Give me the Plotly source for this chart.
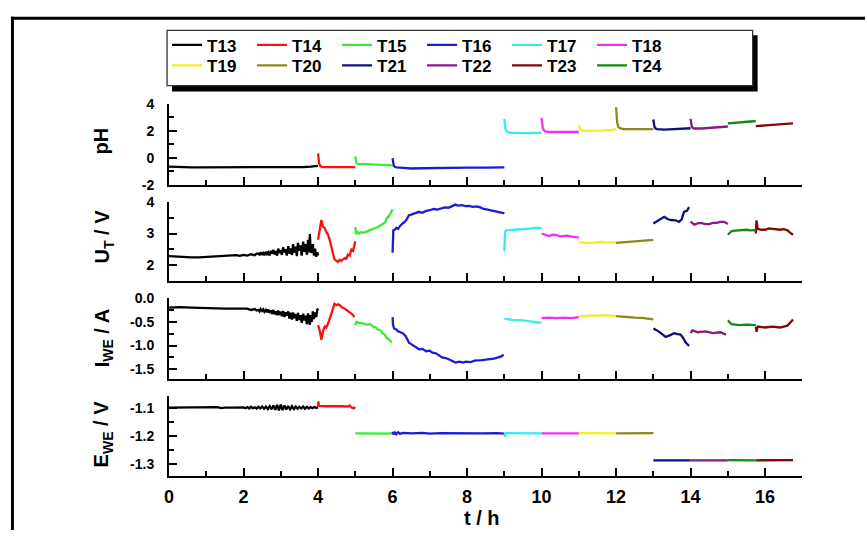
import plotly.graph_objects as go

W, H = 867, 540
def xp(px): return px / W
def yp(py): return 1 - py / H

FONT = "Liberation Sans"

names = ["T13", "T14", "T15", "T16", "T17", "T18", "T19", "T20", "T21", "T22", "T23", "T24"]
colors = ["#000000", "#ff1010", "#33ee33", "#1c1cd4", "#33eeee", "#f030f0",
          "#f2f020", "#8a8a1c", "#10107c", "#861a86", "#820808", "#108a10"]

# ---------------- pH ----------------
T13_ph_t = [0.0, 0.3, 0.6, 0.9, 1.2, 1.5, 1.8, 2.1, 2.4, 2.7, 3.0, 3.3, 3.6, 3.8, 3.9, 4.0]
T13_ph = [-0.66, -0.70, -0.71, -0.72, -0.72, -0.73, -0.72, -0.73, -0.72, -0.71, -0.72, -0.70, -0.69, -0.66, -0.62, -0.60]
T14_ph_t = [4.0, 4.01, 4.03, 4.06, 4.1, 4.2, 4.4, 4.6, 4.8, 5.0]
T14_ph = [0.33, -0.1, -0.45, -0.62, -0.68, -0.70, -0.70, -0.71, -0.70, -0.70]
T15_ph_t = [5.0, 5.01, 5.03, 5.06, 5.1, 5.3, 5.5, 5.7, 5.9, 6.0]
T15_ph = [0.09, -0.2, -0.38, -0.45, -0.47, -0.48, -0.50, -0.52, -0.55, -0.56]
T16_ph_t = [6.0, 6.01, 6.03, 6.06, 6.1, 6.3, 6.5, 6.8, 7.1, 7.5, 8.0, 8.5, 9.0]
T16_ph = [-0.03, -0.35, -0.58, -0.68, -0.72, -0.76, -0.80, -0.78, -0.76, -0.75, -0.74, -0.73, -0.72]
T17_ph_t = [9.0, 9.01, 9.03, 9.06, 9.1, 9.2, 9.4, 9.7, 10.0]
T17_ph = [2.90, 2.5, 2.15, 1.97, 1.90, 1.86, 1.84, 1.84, 1.88]
T18_ph_t = [10.0, 10.01, 10.03, 10.06, 10.1, 10.2, 10.5, 10.8, 11.0]
T18_ph = [2.97, 2.6, 2.25, 2.05, 1.97, 1.92, 1.91, 1.91, 1.92]
T19_ph_t = [11.0, 11.02, 11.05, 11.1, 11.3, 11.6, 11.9, 12.0]
T19_ph = [2.41, 2.2, 2.05, 2.0, 1.99, 2.02, 2.08, 2.14]
T20_ph_t = [12.0, 12.01, 12.03, 12.06, 12.1, 12.2, 12.5, 12.8, 13.0]
T20_ph = [3.76, 3.2, 2.6, 2.3, 2.2, 2.14, 2.12, 2.12, 2.13]
T21_ph_t = [13.0, 13.01, 13.03, 13.06, 13.1, 13.3, 13.6, 13.9, 14.0]
T21_ph = [2.85, 2.55, 2.3, 2.18, 2.13, 2.1, 2.13, 2.18, 2.2]
T22_ph_t = [14.0, 14.01, 14.03, 14.06, 14.1, 14.3, 14.6, 14.9, 15.0]
T22_ph = [2.90, 2.6, 2.35, 2.22, 2.18, 2.18, 2.22, 2.3, 2.33]
T23_ph_t = [15.75, 16.0, 16.3, 16.6, 16.75]
T23_ph = [2.36, 2.42, 2.48, 2.53, 2.56]
T24_ph_t = [15.0, 15.2, 15.4, 15.6, 15.75]
T24_ph = [2.56, 2.62, 2.66, 2.70, 2.73]

# ---------------- U_T ----------------
T13_u_t = [0.0, 0.2, 0.4, 0.6, 0.8, 1.0, 1.2, 1.4, 1.6, 1.8, 1.9, 2.0, 2.1, 2.2, 2.3, 2.35,
           2.40, 2.43, 2.46, 2.50, 2.53, 2.56, 2.60, 2.63, 2.66, 2.70, 2.73, 2.76, 2.80, 2.83,
           2.86, 2.90, 2.93, 2.96, 3.00, 3.03, 3.06, 3.10, 3.13, 3.16, 3.20, 3.23, 3.26, 3.30,
           3.33, 3.36, 3.40, 3.43, 3.46, 3.50, 3.53, 3.56, 3.60, 3.63, 3.66, 3.70, 3.73, 3.76,
           3.78, 3.80, 3.83, 3.86, 3.89, 3.92, 3.95, 3.98, 4.00]
T13_u = [2.28, 2.26, 2.25, 2.24, 2.24, 2.25, 2.27, 2.29, 2.30, 2.31, 2.29, 2.32, 2.30, 2.34, 2.31, 2.36,
         2.36, 2.31, 2.40, 2.34, 2.38, 2.31, 2.42, 2.35, 2.40, 2.30, 2.45, 2.36, 2.48, 2.33,
         2.44, 2.30, 2.52, 2.38, 2.47, 2.32, 2.56, 2.40, 2.50, 2.30, 2.60, 2.36, 2.52, 2.32,
         2.66, 2.40, 2.58, 2.28, 2.70, 2.45, 2.62, 2.30, 2.74, 2.42, 2.66, 2.33, 2.80, 2.40,
         2.98, 2.50, 2.38, 2.66, 2.30, 2.52, 2.26, 2.40, 2.30]
T14_u_t = [4.0, 4.04, 4.09, 4.13, 4.18, 4.22, 4.27, 4.31, 4.36, 4.40, 4.44, 4.49, 4.53, 4.58, 4.62,
           4.67, 4.72, 4.76, 4.80, 4.85, 4.89, 4.94, 4.98, 5.0]
T14_u = [2.80, 3.06, 3.43, 3.22, 3.17, 3.05, 2.96, 2.80, 2.59, 2.40, 2.18, 2.14, 2.10, 2.16, 2.12,
         2.18, 2.22, 2.20, 2.33, 2.30, 2.49, 2.45, 2.65, 2.75]
T15_u_t = [5.0, 5.02, 5.06, 5.1, 5.15, 5.2, 5.3, 5.4, 5.5, 5.6, 5.7, 5.8, 5.85, 5.9, 5.95, 6.0]
T15_u = [3.20, 2.98, 3.05, 3.00, 3.04, 3.03, 3.06, 3.12, 3.16, 3.20, 3.28, 3.35, 3.50, 3.55, 3.65, 3.77]
T16_u_t = [6.0, 6.005, 6.02, 6.06, 6.1, 6.15, 6.2, 6.27, 6.32, 6.38, 6.44, 6.5, 6.6, 6.71, 6.8,
           6.9, 7.0, 7.1, 7.2, 7.3, 7.4, 7.5, 7.6, 7.69, 7.75, 7.85, 7.96, 8.05, 8.15, 8.25,
           8.35, 8.45, 8.55, 8.65, 8.75, 8.85, 8.95, 9.0]
T16_u = [2.39, 2.9, 3.1, 3.12, 3.18, 3.15, 3.24, 3.32, 3.36, 3.45, 3.58, 3.6, 3.64, 3.69, 3.66,
         3.72, 3.74, 3.78, 3.76, 3.8, 3.83, 3.82, 3.88, 3.92, 3.89, 3.9, 3.87, 3.88, 3.85, 3.86,
         3.83, 3.78, 3.76, 3.74, 3.72, 3.7, 3.66, 3.64]
T17_u_t = [9.0, 9.01, 9.02, 9.05, 9.3, 9.6, 9.9, 10.0]
T17_u = [2.44, 2.8, 3.05, 3.10, 3.12, 3.16, 3.19, 3.19]
T18_u_t = [10.0, 10.1, 10.2, 10.3, 10.4, 10.5, 10.6, 10.7, 10.8, 10.9, 11.0]
T18_u = [3.0, 2.95, 2.92, 2.96, 2.95, 2.91, 2.92, 2.93, 2.90, 2.89, 2.87]
T19_u_t = [11.0, 11.2, 11.4, 11.6, 11.8, 12.0]
T19_u = [2.72, 2.70, 2.71, 2.73, 2.71, 2.72]
T20_u_t = [12.0, 12.2, 12.4, 12.6, 12.8, 13.0]
T20_u = [2.70, 2.72, 2.73, 2.75, 2.77, 2.80]
T21_u_t = [13.0, 13.1, 13.2, 13.29, 13.38, 13.47, 13.6, 13.69, 13.76, 13.82, 13.9, 13.96]
T21_u = [3.32, 3.40, 3.47, 3.53, 3.46, 3.43, 3.42, 3.37, 3.45, 3.69, 3.72, 3.84]
T22_u_t = [14.0, 14.1, 14.2, 14.3, 14.4, 14.5, 14.6, 14.7, 14.8, 14.9, 15.0]
T22_u = [3.38, 3.28, 3.33, 3.33, 3.30, 3.30, 3.34, 3.34, 3.37, 3.37, 3.30]
T23_u_t = [15.75, 15.77, 15.8, 15.9, 16.0, 16.1, 16.2, 16.3, 16.4, 16.5, 16.6, 16.7, 16.75]
T23_u = [3.0, 3.42, 3.15, 3.12, 3.12, 3.16, 3.15, 3.13, 3.12, 3.14, 3.10, 3.00, 2.96]
T24_u_t = [15.0, 15.1, 15.2, 15.3, 15.4, 15.5, 15.6, 15.75]
T24_u = [2.96, 3.08, 3.09, 3.10, 3.11, 3.12, 3.10, 3.11]

# ---------------- I_WE ----------------
T13_i_t = [0.0, 0.3, 0.6, 0.9, 1.2, 1.5, 1.8, 2.0, 2.1, 2.2, 2.3, 2.35,
           2.40, 2.43, 2.46, 2.50, 2.53, 2.56, 2.60, 2.63, 2.66, 2.70, 2.73, 2.76, 2.80, 2.83,
           2.86, 2.90, 2.93, 2.96, 3.00, 3.03, 3.06, 3.10, 3.13, 3.16, 3.20, 3.23, 3.26, 3.30,
           3.33, 3.36, 3.40, 3.43, 3.46, 3.50, 3.53, 3.56, 3.60, 3.63, 3.66, 3.70, 3.73, 3.76,
           3.78, 3.80, 3.83, 3.86, 3.89, 3.92, 3.95, 3.98, 4.00]
T13_i = [-0.20, -0.19, -0.20, -0.21, -0.21, -0.22, -0.22, -0.23, -0.22, -0.25, -0.23, -0.26,
         -0.25, -0.28, -0.23, -0.27, -0.24, -0.29, -0.25, -0.30, -0.24, -0.31, -0.26, -0.33, -0.25, -0.34,
         -0.28, -0.36, -0.26, -0.35, -0.29, -0.38, -0.27, -0.40, -0.30, -0.37, -0.28, -0.43, -0.31, -0.45,
         -0.30, -0.42, -0.34, -0.48, -0.31, -0.46, -0.36, -0.52, -0.33, -0.47, -0.37, -0.55, -0.32, -0.50,
         -0.56, -0.36, -0.50, -0.28, -0.44, -0.30, -0.40, -0.25, -0.22]
T14_i_t = [4.0, 4.04, 4.09, 4.13, 4.18, 4.22, 4.27, 4.31, 4.36, 4.40, 4.44, 4.50, 4.54, 4.58, 4.65,
           4.71, 4.78, 4.84, 4.90, 4.98]
T14_i = [-0.57, -0.67, -0.88, -0.70, -0.60, -0.62, -0.53, -0.45, -0.32, -0.22, -0.12, -0.15, -0.13,
         -0.15, -0.20, -0.22, -0.26, -0.29, -0.33, -0.40]
T15_i_t = [5.0, 5.03, 5.1, 5.2, 5.3, 5.4, 5.47, 5.55, 5.6, 5.67, 5.73, 5.8, 5.85, 5.92, 5.97]
T15_i = [-0.57, -0.50, -0.52, -0.53, -0.56, -0.55, -0.60, -0.62, -0.66, -0.68, -0.74, -0.78, -0.85, -0.88, -0.94]
T16_i_t = [6.0, 6.01, 6.04, 6.1, 6.15, 6.2, 6.27, 6.35, 6.44, 6.5, 6.6, 6.71, 6.8, 6.9, 7.0,
           7.07, 7.15, 7.25, 7.33, 7.45, 7.55, 7.69, 7.8, 7.9, 7.96, 8.1, 8.2, 8.31, 8.4, 8.5,
           8.6, 8.67, 8.75, 8.85, 8.92, 8.98]
T16_i = [-0.40, -0.55, -0.64, -0.66, -0.70, -0.72, -0.74, -0.80, -0.94, -0.97, -1.03, -1.08, -1.07, -1.12, -1.11,
         -1.15, -1.16, -1.21, -1.25, -1.27, -1.31, -1.36, -1.34, -1.36, -1.34, -1.35, -1.32, -1.32, -1.31, -1.30,
         -1.28, -1.28, -1.27, -1.25, -1.23, -1.19]
T17_i_t = [9.0, 9.2, 9.5, 9.8, 10.0]
T17_i = [-0.43, -0.46, -0.47, -0.50, -0.52]
T18_i_t = [10.0, 10.2, 10.4, 10.6, 10.8, 11.0]
T18_i = [-0.42, -0.41, -0.42, -0.41, -0.42, -0.40]
T19_i_t = [11.0, 11.25, 11.5, 11.75, 12.0]
T19_i = [-0.39, -0.37, -0.37, -0.36, -0.38]
T20_i_t = [12.0, 12.25, 12.5, 12.75, 13.0]
T20_i = [-0.38, -0.40, -0.41, -0.42, -0.45]
T21_i_t = [13.0, 13.1, 13.2, 13.33, 13.45, 13.56, 13.65, 13.73, 13.8, 13.87, 13.96]
T21_i = [-0.64, -0.68, -0.74, -0.82, -0.78, -0.74, -0.76, -0.77, -0.84, -0.94, -1.01]
T22_i_t = [14.0, 14.05, 14.2, 14.4, 14.6, 14.8, 14.95]
T22_i = [-0.74, -0.68, -0.72, -0.70, -0.74, -0.72, -0.77]
T23_i_t = [15.75, 15.77, 15.8, 16.0, 16.2, 16.4, 16.6, 16.7, 16.75]
T23_i = [-0.60, -0.71, -0.60, -0.62, -0.60, -0.62, -0.58, -0.50, -0.45]
T24_i_t = [15.0, 15.1, 15.3, 15.5, 15.75]
T24_i = [-0.47, -0.55, -0.57, -0.56, -0.57]

# ---------------- E_WE ----------------
T13_e_t = [0.0, 0.5, 1.0, 1.3, 1.4, 1.5, 1.75, 2.0, 2.05, 2.1, 2.15, 2.2, 2.25, 2.3, 2.35, 2.4, 2.45,
           2.5, 2.55, 2.6, 2.65, 2.7, 2.75, 2.8, 2.85, 2.9, 2.95, 3.0, 3.05, 3.1, 3.15, 3.2, 3.25,
           3.3, 3.35, 3.4, 3.45, 3.5, 3.55, 3.6, 3.65, 3.7, 3.75, 3.8, 3.85, 3.9, 3.95, 4.0]
T13_e = [-1.100, -1.100, -1.100, -1.098, -1.102, -1.100, -1.100, -1.099, -1.102, -1.098, -1.103, -1.097,
         -1.102, -1.099, -1.103, -1.097, -1.103, -1.096, -1.104, -1.096, -1.105, -1.095, -1.106, -1.092,
         -1.108, -1.090, -1.110, -1.089, -1.109, -1.092, -1.107, -1.094, -1.106, -1.095, -1.105, -1.096,
         -1.104, -1.097, -1.103, -1.096, -1.104, -1.097, -1.103, -1.098, -1.102, -1.098, -1.101, -1.100]
T14_e_t = [4.0, 4.01, 4.02, 4.2, 4.4, 4.6, 4.8, 4.85, 4.9, 4.95, 5.0]
T14_e = [-1.098, -1.078, -1.094, -1.095, -1.094, -1.095, -1.096, -1.092, -1.100, -1.103, -1.098]
T15_e_t = [5.0, 5.25, 5.5, 5.75, 6.0]
T15_e = [-1.192, -1.193, -1.192, -1.193, -1.192]
T16_e_t = [6.0, 6.03, 6.06, 6.1, 6.15, 6.2, 6.3, 6.5, 6.8, 7.0, 7.3, 7.6, 8.0, 8.4, 8.8, 9.0]
T16_e = [-1.186, -1.196, -1.187, -1.195, -1.188, -1.193, -1.190, -1.192, -1.190, -1.193, -1.191,
         -1.192, -1.191, -1.192, -1.191, -1.193]
T17_e_t = [9.0, 9.02, 9.04, 9.5, 10.0]
T17_e = [-1.192, -1.205, -1.191, -1.192, -1.192]
T18_e_t = [10.0, 10.5, 11.0]
T18_e = [-1.192, -1.191, -1.192]
T19_e_t = [11.0, 11.5, 12.0]
T19_e = [-1.191, -1.192, -1.192]
T20_e_t = [12.0, 12.5, 13.0]
T20_e = [-1.192, -1.192, -1.191]
T21_e_t = [13.0, 13.5, 14.0]
T21_e = [-1.288, -1.287, -1.288]
T22_e_t = [14.0, 14.5, 15.0]
T22_e = [-1.288, -1.288, -1.288]
T23_e_t = [15.75, 16.25, 16.75]
T23_e = [-1.288, -1.288, -1.287]
T24_e_t = [15.0, 15.4, 15.75]
T24_e = [-1.287, -1.288, -1.288]

# ---------------- tick labels ----------------
x_tickvals = [0, 2, 4, 6, 8, 10, 12, 14, 16]
x_ticktext = ["0", "2", "4", "6", "8", "10", "12", "14", "16"]
ph_tickvals = [-2, 0, 2, 4]
ph_ticktext = ["-2", "0", "2", "4"]
u_tickvals = [2, 3, 4]
u_ticktext = ["2", "3", "4"]
i_tickvals = [-1.5, -1.0, -0.5, 0.0]
i_ticktext = ["-1.5", "-1.0", "-0.5", "0.0"]
e_tickvals = [-1.3, -1.2, -1.1]
e_ticktext = ["-1.3", "-1.2", "-1.1"]

g = globals()
panels = [
    ("ph", [-2, 4], ph_tickvals, ph_ticktext, 0, 1, (99, 182)),
    ("u", [1.5, 4], u_tickvals, u_ticktext, 0, 0.5, (200, 281)),
    ("i", [-1.7, 0.0], i_tickvals, i_ticktext, 0, 0.25, (299, 382)),
    ("e", [-1.343, -1.059], e_tickvals, e_ticktext, -1.3, 0.05, (400, 482)),
]

fig = go.Figure()
for k, (key, yr, tv, tt, mt0, mdt, (ptop, pbot)) in enumerate(panels):
    sfx = "" if k == 0 else str(k + 1)
    for j, nm in enumerate(names):
        fig.add_trace(go.Scatter(
            x=g[f"{nm}_{key}_t"], y=g[f"{nm}_{key}"], mode="lines", name=nm,
            line=dict(color=colors[j], width=2.3),
            xaxis="x" + sfx, yaxis="y" + sfx,
            showlegend=(k == 0), legend=("legend" if j < 6 else "legend2"),
            hoverinfo="skip"))
    tickfont = dict(family=FONT, size=14, color="black", weight="bold")
    fig.layout["xaxis" + sfx] = dict(
        domain=[xp(165), xp(802)], range=[0, 17], anchor="y" + sfx,
        showline=True, linecolor="black", linewidth=2, showgrid=False, zeroline=False,
        ticks="inside", ticklen=8, tickwidth=2, tickcolor="black",
        tickmode="array", tickvals=x_tickvals, ticktext=x_ticktext,
        minor=dict(tickmode="linear", tick0=0, dtick=1, ticks="inside", ticklen=5,
                   tickwidth=2, tickcolor="black"),
        showticklabels=(k == 3), ticklabelstandoff=4,
        tickfont=dict(family=FONT, size=18, color="black", weight="bold"))
    fig.layout["yaxis" + sfx] = dict(
        domain=[yp(pbot), yp(ptop)], range=yr, anchor="x" + sfx,
        showline=True, linecolor="black", linewidth=2, showgrid=False, zeroline=False,
        ticks="inside", ticklen=8, tickwidth=2, tickcolor="black",
        tickmode="array", tickvals=tv, ticktext=tt,
        minor=dict(tickmode="linear", tick0=mt0, dtick=mdt, ticks="inside", ticklen=5,
                   tickwidth=2, tickcolor="black"),
        ticklabelstandoff=10, tickfont=tickfont)

# y-axis titles and x title
titlefont = dict(family=FONT, size=20, color="black", weight="bold")
ytitles = [("pH", 97, 137), ("U<sub>T</sub> / V", 99, 235),
           ("I<sub>WE</sub> / A", 99, 340), ("E<sub>WE</sub> / V", 99, 439)]
for txt, cx, cy in ytitles:
    fig.add_annotation(text=txt, x=xp(cx), y=yp(cy), xref="paper", yref="paper",
                       xanchor="center", yanchor="middle", textangle=-90,
                       showarrow=False, font=titlefont)
fig.add_annotation(text="t / h", x=xp(480), y=yp(526), xref="paper", yref="paper",
                   xanchor="center", yanchor="middle", showarrow=False, font=titlefont)

legfont = dict(family=FONT, size=17, color="black", weight="bold")
for lname, top in (("legend", 20), ("legend2", 41)):
    fig.layout[lname] = dict(orientation="h", x=xp(163), y=yp(top), xanchor="left",
                             yanchor="top", bgcolor="rgba(0,0,0,0)", borderwidth=0,
                             font=legfont, entrywidth=40, entrywidthmode="pixels",
                             tracegroupgap=0, itemclick=False)

shapes = [
    # outer frame: left and top edges as filled bars (kept inside the page)
    dict(type="rect", xref="paper", yref="paper", x0=xp(6), x1=xp(9), y0=yp(538), y1=yp(9),
         line=dict(width=0), fillcolor="black", layer="above"),
    dict(type="rect", xref="paper", yref="paper", x0=xp(6), x1=xp(865), y0=yp(12), y1=yp(9),
         line=dict(width=0), fillcolor="black", layer="above"),
    # legend shadow and box
    dict(type="rect", xref="paper", yref="paper", x0=xp(168), y0=yp(86), x1=xp(757), y1=yp(28),
         line=dict(width=0), fillcolor="black", layer="above"),
    dict(type="rect", xref="paper", yref="paper", x0=xp(163), y0=yp(80), x1=xp(752), y1=yp(23),
         line=dict(color="#333333", width=1.3), fillcolor="white", layer="above"),
]
fig.update_layout(shapes=shapes, width=W, height=H, autosize=False,
                  margin=dict(l=0, r=0, t=0, b=0),
                  paper_bgcolor="white", plot_bgcolor="white", showlegend=True)

fig.write_html("out.html")
